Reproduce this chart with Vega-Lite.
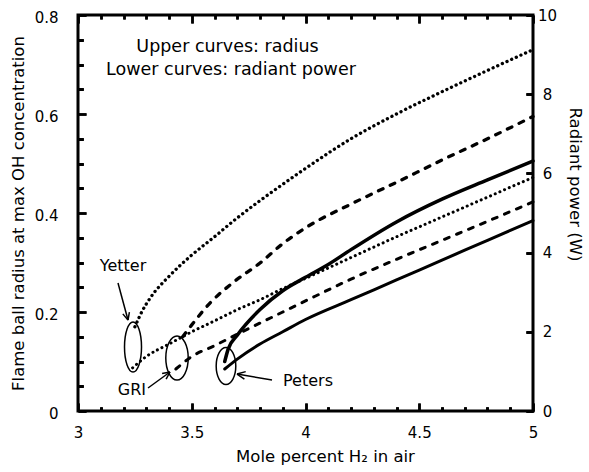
{
  "$schema": "https://vega.github.io/schema/vega-lite/v6.json",
  "width": 455,
  "height": 396,
  "autosize": {"type": "none"},
  "padding": {"left": 78, "top": 15, "right": 56, "bottom": 61},
  "background": "white",
  "config": {
    "view": {"stroke": "black", "strokeWidth": 3},
    "axis": {
      "domain": false, "grid": false,
      "labelFont": "DejaVu Sans", "labelFontSize": 15, "labelColor": "black",
      "titleFont": "DejaVu Sans", "titleFontSize": 16.5, "titleFontWeight": "normal", "titleColor": "black",
      "labelFlush": false
    }
  },
  "datasets": {
    "radius": [
      {"model": "Yetter", "x": 3.25, "r": 0.17}, {"model": "Yetter", "x": 3.28, "r": 0.2}, {"model": "Yetter", "x": 3.32, "r": 0.23},
      {"model": "Yetter", "x": 3.4, "r": 0.272}, {"model": "Yetter", "x": 3.5, "r": 0.315}, {"model": "Yetter", "x": 3.6, "r": 0.352},
      {"model": "Yetter", "x": 3.7, "r": 0.39}, {"model": "Yetter", "x": 3.8, "r": 0.425}, {"model": "Yetter", "x": 3.9, "r": 0.458},
      {"model": "Yetter", "x": 4.0, "r": 0.49}, {"model": "Yetter", "x": 4.2, "r": 0.55}, {"model": "Yetter", "x": 4.4, "r": 0.6},
      {"model": "Yetter", "x": 4.6, "r": 0.645}, {"model": "Yetter", "x": 4.8, "r": 0.688}, {"model": "Yetter", "x": 5.0, "r": 0.73},
      {"model": "GRI", "x": 3.46, "r": 0.15}, {"model": "GRI", "x": 3.5, "r": 0.174}, {"model": "GRI", "x": 3.58, "r": 0.218},
      {"model": "GRI", "x": 3.68, "r": 0.259}, {"model": "GRI", "x": 3.8, "r": 0.299}, {"model": "GRI", "x": 3.9, "r": 0.338},
      {"model": "GRI", "x": 4.0, "r": 0.37}, {"model": "GRI", "x": 4.2, "r": 0.418}, {"model": "GRI", "x": 4.4, "r": 0.462},
      {"model": "GRI", "x": 4.6, "r": 0.507}, {"model": "GRI", "x": 4.8, "r": 0.55}, {"model": "GRI", "x": 5.0, "r": 0.595},
      {"model": "Peters", "x": 3.645, "r": 0.1}, {"model": "Peters", "x": 3.66, "r": 0.125}, {"model": "Peters", "x": 3.7, "r": 0.153},
      {"model": "Peters", "x": 3.8, "r": 0.205}, {"model": "Peters", "x": 3.9, "r": 0.243}, {"model": "Peters", "x": 4.0, "r": 0.27},
      {"model": "Peters", "x": 4.1, "r": 0.296}, {"model": "Peters", "x": 4.2, "r": 0.326}, {"model": "Peters", "x": 4.4, "r": 0.382},
      {"model": "Peters", "x": 4.6, "r": 0.428}, {"model": "Peters", "x": 4.8, "r": 0.467}, {"model": "Peters", "x": 5.0, "r": 0.505}
    ],
    "power": [
      {"model": "Yetter", "x": 3.24, "p": 1.09}, {"model": "Yetter", "x": 3.3, "p": 1.375}, {"model": "Yetter", "x": 3.4, "p": 1.69},
      {"model": "Yetter", "x": 3.5, "p": 2.0}, {"model": "Yetter", "x": 3.6, "p": 2.275}, {"model": "Yetter", "x": 3.7, "p": 2.56},
      {"model": "Yetter", "x": 3.8, "p": 2.81}, {"model": "Yetter", "x": 3.9, "p": 3.09}, {"model": "Yetter", "x": 4.0, "p": 3.35},
      {"model": "Yetter", "x": 4.2, "p": 3.875}, {"model": "Yetter", "x": 4.4, "p": 4.4}, {"model": "Yetter", "x": 4.6, "p": 4.9},
      {"model": "Yetter", "x": 4.8, "p": 5.4}, {"model": "Yetter", "x": 5.0, "p": 5.9},
      {"model": "GRI", "x": 3.43, "p": 1.06}, {"model": "GRI", "x": 3.5, "p": 1.375}, {"model": "GRI", "x": 3.6, "p": 1.65},
      {"model": "GRI", "x": 3.7, "p": 1.94}, {"model": "GRI", "x": 3.8, "p": 2.22}, {"model": "GRI", "x": 3.9, "p": 2.5},
      {"model": "GRI", "x": 4.0, "p": 2.78}, {"model": "GRI", "x": 4.2, "p": 3.33}, {"model": "GRI", "x": 4.4, "p": 3.83},
      {"model": "GRI", "x": 4.6, "p": 4.31}, {"model": "GRI", "x": 4.8, "p": 4.79}, {"model": "GRI", "x": 5.0, "p": 5.28},
      {"model": "Peters", "x": 3.645, "p": 1.06}, {"model": "Peters", "x": 3.7, "p": 1.31}, {"model": "Peters", "x": 3.8, "p": 1.69},
      {"model": "Peters", "x": 3.9, "p": 2.0}, {"model": "Peters", "x": 4.0, "p": 2.31}, {"model": "Peters", "x": 4.2, "p": 2.81},
      {"model": "Peters", "x": 4.4, "p": 3.31}, {"model": "Peters", "x": 4.6, "p": 3.81}, {"model": "Peters", "x": 4.8, "p": 4.31},
      {"model": "Peters", "x": 5.0, "p": 4.81}
    ],
    "ellipses": [
      {"model": "Yetter", "x": 3.2418, "r": 0.1293},
      {"model": "GRI", "x": 3.4352, "r": 0.1071},
      {"model": "Peters", "x": 3.6505, "r": 0.0909}
    ],
    "arrows": [
      {"model": "Yetter", "x": 3.1758, "r": 0.2586, "x2": 3.2198, "r2": 0.1838},
      {"model": "Yetter", "x": 3.2198, "r": 0.1838, "x2": 3.2259, "r2": 0.1998},
      {"model": "Yetter", "x": 3.2198, "r": 0.1838, "x2": 3.1969, "r2": 0.1962},
      {"model": "GRI", "x": 3.3077, "r": 0.0465, "x2": 3.4044, "r2": 0.0788},
      {"model": "GRI", "x": 3.4044, "r": 0.0788, "x2": 3.3697, "r2": 0.0758},
      {"model": "GRI", "x": 3.4044, "r": 0.0788, "x2": 3.3873, "r2": 0.0646},
      {"model": "Peters", "x": 3.8527, "r": 0.0626, "x2": 3.6989, "r2": 0.0747},
      {"model": "Peters", "x": 3.6989, "r": 0.0747, "x2": 3.7314, "r2": 0.0644},
      {"model": "Peters", "x": 3.6989, "r": 0.0747, "x2": 3.7371, "r2": 0.0796}
    ],
    "textlabels": [
      {"text": "Yetter", "x": 3.198, "r": 0.293},
      {"text": "GRI", "x": 3.237, "r": 0.0424},
      {"text": "Peters", "x": 4.011, "r": 0.0606}
    ],
    "notes": [
      {"text": "Upper curves: radius", "x": 3.657, "r": 0.7354},
      {"text": "Lower curves: radiant power", "x": 3.6725, "r": 0.689}
    ]
  },
  "resolve": {"scale": {"y": "independent"}, "axis": {"x": "independent", "y": "independent"}},
  "layer": [
    {
      "data": {"name": "radius"},
      "transform": [{"filter": "datum.model === 'Yetter'"}],
      "mark": {"type": "line", "color": "black", "strokeWidth": 3.3, "strokeCap": "round", "strokeDash": [0.1, 5], "interpolate": "monotone"},
      "encoding": {
        "x": {"field": "x", "type": "quantitative", "scale": {"domain": [3, 5], "nice": false},
          "axis": {"orient": "bottom", "values": [3, 3.5, 4, 4.5, 5], "format": "~g", "tickSize": -8, "tickColor": "black", "tickWidth": 2.5, "labelPadding": 22,
            "title": "Mole percent H₂  in air", "titlePadding": 8, "titleX": 247}},
        "y": {"field": "r", "type": "quantitative", "scale": {"domain": [0, 0.8], "nice": false},
          "axis": {"orient": "left", "values": [0, 0.2, 0.4, 0.6, 0.8], "format": "~g", "tickSize": -8, "tickColor": "black", "tickWidth": 2.5, "labelPadding": 28, "labelOffset": 2,
            "title": "Flame ball radius at max OH concentration", "titlePadding": 8}}
      }
    },
    {
      "data": {"name": "radius"},
      "transform": [{"filter": "datum.model === 'GRI'"}],
      "mark": {"type": "line", "color": "black", "strokeWidth": 3.3, "strokeCap": "round", "strokeDash": [5, 8], "interpolate": "monotone"},
      "encoding": {
        "x": {"field": "x", "type": "quantitative", "scale": {"domain": [3, 5], "nice": false},
          "axis": {"orient": "bottom", "values": [3.1, 3.2, 3.3, 3.4, 3.6, 3.7, 3.8, 3.9, 4.1, 4.2, 4.3, 4.4, 4.6, 4.7, 4.8, 4.9], "tickSize": -4, "tickColor": "black", "tickWidth": 2.5, "labels": false, "title": null}},
        "y": {"field": "r", "type": "quantitative", "scale": {"domain": [0, 0.8], "nice": false},
          "axis": {"orient": "left", "values": [0.05, 0.1, 0.15, 0.25, 0.3, 0.35, 0.45, 0.5, 0.55, 0.65, 0.7, 0.75], "tickSize": -5, "tickColor": "black", "tickWidth": 2.5, "labels": false, "title": null}}
      }
    },
    {
      "data": {"name": "radius"},
      "transform": [{"filter": "datum.model === 'Peters'"}],
      "mark": {"type": "line", "color": "black", "strokeWidth": 3.5, "strokeCap": "round", "interpolate": "monotone"},
      "encoding": {
        "x": {"field": "x", "type": "quantitative", "scale": {"domain": [3, 5], "nice": false},
          "axis": {"orient": "top", "values": [3, 3.5, 4, 4.5, 5], "tickSize": -8, "tickColor": "black", "tickWidth": 2.5, "labels": false, "title": null}},
        "y": {"field": "r", "type": "quantitative", "scale": {"domain": [0, 0.8], "nice": false},
          "axis": {"orient": "left", "values": [0.05, 0.1, 0.15, 0.25, 0.3, 0.35, 0.45, 0.5, 0.55, 0.65, 0.7, 0.75], "tickSize": -5, "tickColor": "black", "tickWidth": 2.5, "labels": false, "title": null}}
      }
    },
    {
      "data": {"name": "power"},
      "transform": [{"filter": "datum.model === 'Yetter'"}],
      "mark": {"type": "line", "color": "black", "strokeWidth": 3, "strokeCap": "round", "strokeDash": [0.1, 5], "interpolate": "monotone"},
      "encoding": {
        "x": {"field": "x", "type": "quantitative", "scale": {"domain": [3, 5], "nice": false},
          "axis": {"orient": "top", "values": [3.1, 3.2, 3.3, 3.4, 3.6, 3.7, 3.8, 3.9, 4.1, 4.2, 4.3, 4.4, 4.6, 4.7, 4.8, 4.9], "tickSize": -4, "tickColor": "black", "tickWidth": 2.5, "labels": false, "title": null}},
        "y": {"field": "p", "type": "quantitative", "scale": {"domain": [0, 10], "nice": false},
          "axis": {"orient": "right", "values": [0, 2, 4, 6, 8, 10], "tickSize": -7, "tickColor": "black", "tickWidth": 2.5, "labelPadding": 21, "labelAlign": "center",
            "title": "Radiant power (W)", "titlePadding": 10, "titleY": 169}}
      }
    },
    {
      "data": {"name": "power"},
      "transform": [{"filter": "datum.model === 'GRI'"}],
      "mark": {"type": "line", "color": "black", "strokeWidth": 3, "strokeCap": "round", "strokeDash": [5, 8], "interpolate": "monotone"},
      "encoding": {
        "x": {"field": "x", "type": "quantitative", "scale": {"domain": [3, 5], "nice": false},
          "axis": {"orient": "bottom", "values": [3.1, 3.2, 3.3, 3.4, 3.6, 3.7, 3.8, 3.9, 4.1, 4.2, 4.3, 4.4, 4.6, 4.7, 4.8, 4.9], "tickSize": -4, "tickColor": "black", "tickWidth": 2.5, "labels": false, "title": null}},
        "y": {"field": "p", "type": "quantitative", "scale": {"domain": [0, 10], "nice": false},
          "axis": {"orient": "right", "values": [0, 2, 4, 6, 8, 10], "tickSize": -7, "tickColor": "black", "tickWidth": 2.5, "labels": false, "title": null}}
      }
    },
    {
      "data": {"name": "power"},
      "transform": [{"filter": "datum.model === 'Peters'"}],
      "mark": {"type": "line", "color": "black", "strokeWidth": 3, "strokeCap": "round", "interpolate": "monotone"},
      "encoding": {
        "x": {"field": "x", "type": "quantitative", "scale": {"domain": [3, 5], "nice": false},
          "axis": {"orient": "bottom", "values": [3.1, 3.2, 3.3, 3.4, 3.6, 3.7, 3.8, 3.9, 4.1, 4.2, 4.3, 4.4, 4.6, 4.7, 4.8, 4.9], "tickSize": -4, "tickColor": "black", "tickWidth": 2.5, "labels": false, "title": null}},
        "y": {"field": "p", "type": "quantitative", "scale": {"domain": [0, 10], "nice": false},
          "axis": {"orient": "right", "values": [0, 2, 4, 6, 8, 10], "tickSize": -7, "tickColor": "black", "tickWidth": 2.5, "labels": false, "title": null}}
      }
    },
    {
      "data": {"name": "ellipses"},
      "mark": {"type": "point", "filled": false, "stroke": "black", "strokeWidth": 1.5, "opacity": 1},
      "encoding": {
        "x": {"field": "x", "type": "quantitative", "scale": {"domain": [3, 5], "nice": false},
          "axis": {"orient": "bottom", "values": [3.1, 3.2, 3.3, 3.4, 3.6, 3.7, 3.8, 3.9, 4.1, 4.2, 4.3, 4.4, 4.6, 4.7, 4.8, 4.9], "tickSize": -4, "tickColor": "black", "tickWidth": 2.5, "labels": false, "title": null}},
        "y": {"field": "r", "type": "quantitative", "scale": {"domain": [0, 0.8], "nice": false},
          "axis": {"orient": "left", "values": [0.05, 0.1, 0.15, 0.25, 0.3, 0.35, 0.45, 0.5, 0.55, 0.65, 0.7, 0.75], "tickSize": -5, "tickColor": "black", "tickWidth": 2.5, "labels": false, "title": null}},
        "shape": {"field": "model", "type": "nominal", "scale": {"domain": ["Yetter", "GRI", "Peters"],
          "range": ["M0,-1A0.34,1,0,1,1,0,1A0.34,1,0,1,1,0,-1Z", "M0,-1A0.51,1,0,1,1,0,1A0.51,1,0,1,1,0,-1Z", "M0,-1A0.53,1,0,1,1,0,1A0.53,1,0,1,1,0,-1Z"]}, "legend": null},
        "size": {"field": "model", "type": "ordinal", "scale": {"domain": ["Yetter", "GRI", "Peters"], "range": [2500, 1369, 1296]}, "legend": null}
      }
    },
    {
      "data": {"name": "arrows"},
      "mark": {"type": "rule", "color": "black", "strokeWidth": 1.5},
      "encoding": {
        "x": {"field": "x", "type": "quantitative", "scale": {"domain": [3, 5], "nice": false},
          "axis": {"orient": "top", "values": [3.1, 3.2, 3.3, 3.4, 3.6, 3.7, 3.8, 3.9, 4.1, 4.2, 4.3, 4.4, 4.6, 4.7, 4.8, 4.9], "tickSize": -4, "tickColor": "black", "tickWidth": 2.5, "labels": false, "title": null}},
        "x2": {"field": "x2"},
        "y": {"field": "r", "type": "quantitative", "scale": {"domain": [0, 0.8], "nice": false},
          "axis": {"orient": "left", "values": [0.05, 0.1, 0.15, 0.25, 0.3, 0.35, 0.45, 0.5, 0.55, 0.65, 0.7, 0.75], "tickSize": -5, "tickColor": "black", "tickWidth": 2.5, "labels": false, "title": null}},
        "y2": {"field": "r2"}
      }
    },
    {
      "data": {"name": "textlabels"},
      "mark": {"type": "text", "font": "DejaVu Sans", "fontSize": 16, "color": "black", "align": "center", "baseline": "middle"},
      "encoding": {
        "x": {"field": "x", "type": "quantitative", "scale": {"domain": [3, 5], "nice": false},
          "axis": {"orient": "top", "values": [3, 3.5, 4, 4.5, 5], "tickSize": -8, "tickColor": "black", "tickWidth": 2.5, "labels": false, "title": null}},
        "y": {"field": "r", "type": "quantitative", "scale": {"domain": [0, 0.8], "nice": false},
          "axis": {"orient": "left", "values": [0, 0.2, 0.4, 0.6, 0.8], "tickSize": -8, "tickColor": "black", "tickWidth": 2.5, "labels": false, "title": null}},
        "text": {"field": "text"}
      }
    },
    {
      "data": {"name": "notes"},
      "mark": {"type": "text", "font": "DejaVu Sans", "fontSize": 17.5, "color": "black", "align": "center", "baseline": "middle"},
      "encoding": {
        "x": {"field": "x", "type": "quantitative", "scale": {"domain": [3, 5], "nice": false},
          "axis": {"orient": "bottom", "values": [3, 3.5, 4, 4.5, 5], "tickSize": -8, "tickColor": "black", "tickWidth": 2.5, "labels": false, "title": null}},
        "y": {"field": "r", "type": "quantitative", "scale": {"domain": [0, 0.8], "nice": false},
          "axis": {"orient": "left", "values": [0.05, 0.1, 0.15, 0.25, 0.3, 0.35, 0.45, 0.5, 0.55, 0.65, 0.7, 0.75], "tickSize": -5, "tickColor": "black", "tickWidth": 2.5, "labels": false, "title": null}},
        "text": {"field": "text"}
      }
    }
  ]
}
